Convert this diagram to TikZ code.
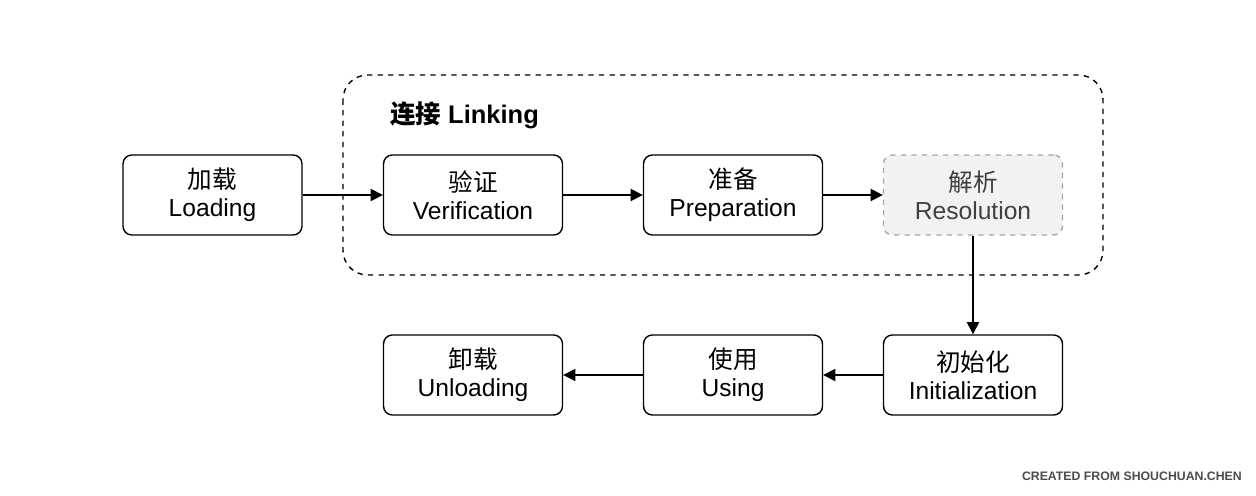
\documentclass[tikz,border=0pt]{standalone}
\usepackage{fontspec}
\setmainfont{Liberation Sans}
\newfontfamily\cjk{Noto Sans CJK SC}
\usetikzlibrary{positioning,arrows.meta}
\begin{document}
\begin{tikzpicture}[x=0.02cm,y=-0.02cm]
  \tikzstyle{stage}=[draw,thick,rounded corners=5pt,minimum width=3.58cm,minimum height=1.6cm,align=center,font=\fontsize{14}{16}\selectfont]
  \tikzstyle{faded}=[stage,draw=gray!70,dashed,fill=gray!10,text=black!75]
  \tikzstyle{flow}=[-{Triangle[length=7pt,width=7pt]},thick]
  \useasboundingbox (0,0) rectangle (1256,496);

  \draw[thick,dashed,rounded corners=14pt] (343,75) rectangle (1103,275);
  \node[anchor=west,font=\fontsize{14.5}{15}\selectfont\bfseries] (title) at (384,115) {{\cjk\bfseries 连接} Linking};

  \node[stage] (load) at (212.5,195) {{\cjk 加载}\\Loading};
  \node[stage] (verify) at (473,195) {{\cjk 验证}\\Verification};
  \node[stage] (prep) at (733,195) {{\cjk 准备}\\Preparation};
  \node[faded] (resolve) at (973,195) {{\cjk 解析}\\Resolution};
  \node[stage] (init) at (973,375) {{\cjk 初始化}\\Initialization};
  \node[stage] (use) at (733,375) {{\cjk 使用}\\Using};
  \node[stage] (unload) at (473,375) {{\cjk 卸载}\\Unloading};

  \draw [flow] (load) to (verify);
  \draw [flow] (verify) to (prep);
  \draw [flow] (prep) to (resolve);
  \draw [flow] (resolve) to (init);
  \draw [flow] (init) to (use);
  \draw [flow] (use) to (unload);

  \node[anchor=east,text=black!70,font=\fontsize{7}{8}\selectfont\bfseries] (mark) at (1248,476) {CREATED FROM SHOUCHUAN.CHEN};
\end{tikzpicture}
\end{document}
